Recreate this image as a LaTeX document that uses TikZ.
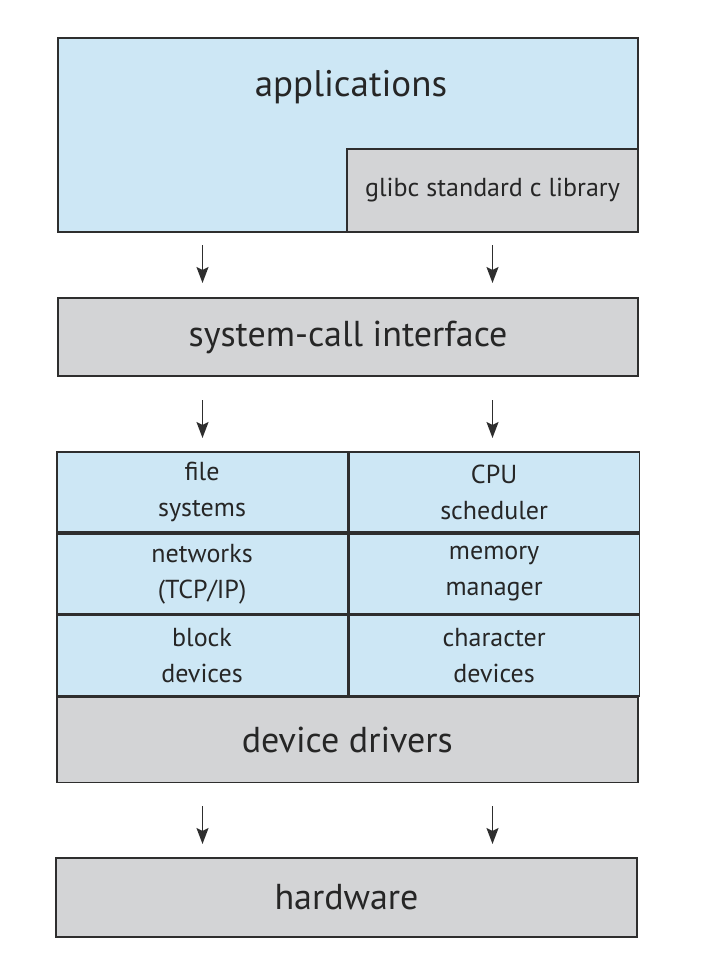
\documentclass[tikz,border=0pt]{standalone}
\usepackage{fontspec}
\setmainfont{PT Sans}
\usetikzlibrary{positioning,arrows.meta}
\definecolor{kblue}{HTML}{CDE7F5}
\definecolor{kgray}{HTML}{D3D4D6}
\definecolor{kline}{HTML}{2E2E2E}
\definecolor{ktext}{HTML}{262626}

\begin{document}
\begin{tikzpicture}[x=1pt, y=-1pt, node distance=0pt,
  layer/.style={draw=kline, line width=1.6pt, inner sep=0pt, text=ktext},
  bigtxt/.style={text=ktext, font=\fontsize{37}{42}\selectfont},
  celltxt/.style={layer, fill=kblue, minimum width=290.5pt, minimum height=80.3pt,
    align=center, font=\fontsize{26}{36}\selectfont,
    execute at begin node={\rule{0pt}{29pt}}},
  down/.style={-{Stealth[length=16pt,width=12pt,inset=3pt]}, line width=1.8pt, color=kline}]
\useasboundingbox (0,0) rectangle (714,976);

% user space
\node[layer, fill=kblue, minimum width=580pt, minimum height=194pt] (apps) at (348,135) {};
\node[bigtxt] (appstxt) at (351,87) {applications};
\node[layer, fill=kgray, minimum width=291pt, minimum height=83pt,
  font=\fontsize{26}{32}\selectfont] (glibc) at (492.5,190.5) {glibc standard c library};

\node[layer, fill=kgray, minimum width=580pt, minimum height=78pt, font=\fontsize{36}{42}\selectfont]
  (sci) at (348,337) {system-call interface};

% kernel
\node[celltxt, anchor=north west] (fs) at (56,451) {file\\systems};
\node[celltxt, right=of fs] (cpu) {CPU\\scheduler};
\node[celltxt, below=of fs] (net) {networks\\(TCP/IP)};
\node[celltxt, below=of cpu] (mem) {memory\\manager};
\node[celltxt, below=of net] (blk) {block\\devices};
\node[celltxt, below=of mem] (chr) {character\\devices};
\node[layer, fill=kgray, minimum width=581pt, minimum height=85pt, font=\fontsize{36}{42}\selectfont,
  anchor=north west] (drv) at (blk.south west) {device drivers};

\node[layer, fill=kgray, minimum width=581pt, minimum height=79pt, font=\fontsize{36}{42}\selectfont]
  (hw) at (346.5,897.5) {hardware};

% arrows
\coordinate (a1) at (202.5,245); \coordinate (b1) at (202.5,283);
\coordinate (a2) at (492.5,245); \coordinate (b2) at (492.5,283);
\coordinate (a3) at (202.5,400); \coordinate (b3) at (202.5,438);
\coordinate (a4) at (492.5,400); \coordinate (b4) at (492.5,438);
\coordinate (a5) at (202.5,806); \coordinate (b5) at (202.5,844);
\coordinate (a6) at (492.5,806); \coordinate (b6) at (492.5,844);
\draw[down] (a1) -- (b1);
\draw[down] (a2) -- (b2);
\draw[down] (a3) -- (b3);
\draw[down] (a4) -- (b4);
\draw[down] (a5) -- (b5);
\draw[down] (a6) -- (b6);
\end{tikzpicture}
\end{document}
